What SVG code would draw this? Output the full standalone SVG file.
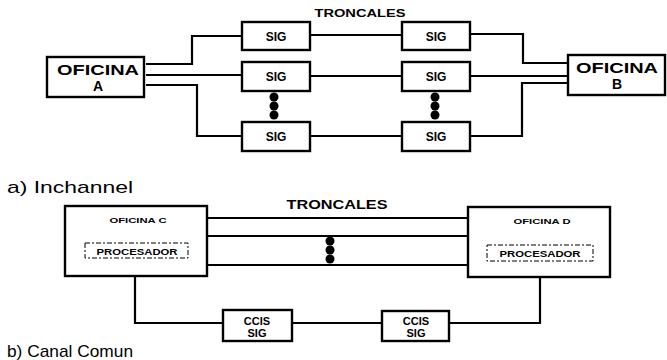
<svg xmlns="http://www.w3.org/2000/svg" width="667" height="360" viewBox="0 0 667 360">
<style>
.box{fill:#fff;stroke:#000;stroke-width:2.4}
.dash{fill:none;stroke:#000;stroke-width:1;stroke-dasharray:5,2,2,2}
.ln{fill:none;stroke:#000;stroke-width:2.2}
.t{font-family:"Liberation Sans",Arial,sans-serif;font-weight:bold;fill:#000;text-anchor:middle}
.cap{font-family:"Liberation Sans",Arial,sans-serif;fill:#000;font-size:17px}
.dot{fill:#000}
</style>
<rect width="667" height="360" fill="#fff"/>
<g id="connectors">
<path class="ln" d="M146,64 H192 V36 H242"/>
<path class="ln" d="M146,75 H242"/>
<path class="ln" d="M146,85 H197 V136 H242"/>
<path class="ln" d="M310,35 H402"/>
<path class="ln" d="M310,76 H402"/>
<path class="ln" d="M310,136 H402"/>
<path class="ln" d="M470,34 H523 V63 H568"/>
<path class="ln" d="M470,76 H568"/>
<path class="ln" d="M470,136 H522 V83 H568"/>
<path class="ln" d="M207,218 H468"/>
<path class="ln" d="M207,236 H468"/>
<path class="ln" d="M207,265 H468"/>
<path class="ln" d="M135,276 V323 H223"/>
<path class="ln" d="M292,323 H382"/>
<path class="ln" d="M449,323 H540 V277"/>
<circle class="dot" cx="274" cy="97" r="4.5"/>
<circle class="dot" cx="274" cy="106" r="4.5"/>
<circle class="dot" cx="274" cy="115" r="4.5"/>
<circle class="dot" cx="435" cy="97" r="4.5"/>
<circle class="dot" cx="435" cy="106" r="4.5"/>
<circle class="dot" cx="435" cy="115" r="4.5"/>
<circle class="dot" cx="330" cy="241" r="4.5"/>
<circle class="dot" cx="330" cy="250" r="4.5"/>
<circle class="dot" cx="330" cy="259" r="4.5"/>
</g>
<text class="t" x="360" y="17" font-size="10" textLength="91" lengthAdjust="spacingAndGlyphs">TRONCALES</text>
<g id="oficinaA">
<rect class="box" x="47" y="57" width="97" height="40"/>
<text class="t" x="98" y="75" font-size="14" textLength="82" lengthAdjust="spacingAndGlyphs">OFICINA</text>
<text class="t" x="98" y="91" font-size="14">A</text>
</g>
<g id="sigL1"><rect class="box" x="242" y="22" width="68" height="28"/><text class="t" x="276" y="41" font-size="12">SIG</text></g>
<g id="sigL2"><rect class="box" x="242" y="62" width="68" height="29"/><text class="t" x="276" y="81" font-size="12">SIG</text></g>
<g id="sigL3"><rect class="box" x="242" y="122" width="68" height="29"/><text class="t" x="276" y="141" font-size="12">SIG</text></g>
<g id="sigR1"><rect class="box" x="402" y="22" width="68" height="28"/><text class="t" x="436" y="41" font-size="12">SIG</text></g>
<g id="sigR2"><rect class="box" x="402" y="62" width="68" height="29"/><text class="t" x="436" y="81" font-size="12">SIG</text></g>
<g id="sigR3"><rect class="box" x="402" y="122" width="68" height="29"/><text class="t" x="436" y="141" font-size="12">SIG</text></g>
<g id="oficinaB">
<rect class="box" x="568" y="55" width="97" height="40"/>
<text class="t" x="617" y="73" font-size="14" textLength="82" lengthAdjust="spacingAndGlyphs">OFICINA</text>
<text class="t" x="617" y="89" font-size="14">B</text>
</g>
<text class="cap" x="7" y="193" textLength="126" lengthAdjust="spacingAndGlyphs">a) Inchannel</text>
<text class="t" x="337" y="209" font-size="13" textLength="101" lengthAdjust="spacingAndGlyphs">TRONCALES</text>
<g id="oficinaC">
<rect class="box" x="65" y="206" width="142" height="70"/>
<text class="t" x="138" y="223" font-size="8" textLength="57" lengthAdjust="spacingAndGlyphs">OFICINA C</text>
<rect class="dash" x="85" y="243" width="103" height="15"/>
<text class="t" x="137" y="255" font-size="9" textLength="81" lengthAdjust="spacingAndGlyphs">PROCESADOR</text>
</g>
<g id="oficinaD">
<rect class="box" x="468" y="207" width="142" height="70"/>
<text class="t" x="542" y="224" font-size="8" textLength="57" lengthAdjust="spacingAndGlyphs">OFICINA D</text>
<rect class="dash" x="487" y="245" width="106" height="16"/>
<text class="t" x="540" y="257" font-size="9" textLength="81" lengthAdjust="spacingAndGlyphs">PROCESADOR</text>
</g>
<g id="ccis1">
<rect class="box" x="223" y="310" width="69" height="31"/>
<text class="t" x="257" y="325" font-size="11">CCIS</text>
<text class="t" x="257" y="337" font-size="11">SIG</text>
</g>
<g id="ccis2">
<rect class="box" x="382" y="311" width="67" height="30"/>
<text class="t" x="416" y="325" font-size="11">CCIS</text>
<text class="t" x="416" y="337" font-size="11">SIG</text>
</g>
<text class="cap" x="7" y="357" textLength="126" lengthAdjust="spacingAndGlyphs">b) Canal Comun</text>
</svg>
